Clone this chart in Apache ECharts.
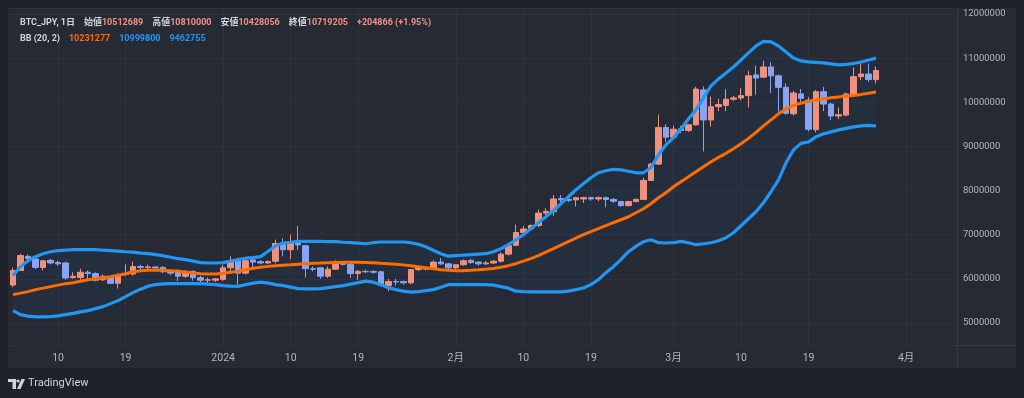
<!DOCTYPE html>
<html>
<head>
<meta charset="utf-8">
<script src="https://cdn.jsdelivr.net/npm/echarts@6/dist/echarts.min.js"></script>
<style>
  html, body { margin: 0; padding: 0; background: #1e212b; }
  #panel { position: absolute; left: 8px; top: 8px; width: 1008px; height: 360px; background: #262a35; }
  #vsep { position: absolute; left: 949px; top: 0; width: 1px; height: 360px; background: #363a45; }
  #hsep { position: absolute; left: 0; top: 337px; width: 1008px; height: 1px; background: #363a45; }
  #chart { position: absolute; left: 0; top: 0; width: 1024px; height: 398px; }
</style>
</head>
<body>
<div id="panel"><div id="vsep"></div><div id="hsep"></div></div>
<div id="chart"></div>
<script>
// 日足 BTC_JPY 2023-12-04 〜 2024-03-28
const startDate = '2023-12-04';
const axisDays = 126; // 右側の余白も含む

const opens = [
  5860000, 6190000, 6510000, 6450000, 6260000, 6420000, 6370000, 6360000, 6030000, 6030000,
  6150000, 6120000, 5980000, 6030000, 5900000, 6100000, 6110000, 6280000, 6260000, 6270000,
  6260000, 6160000, 6170000, 6060000, 6170000, 6030000, 5970000, 5970000, 5990000, 6250000,
  6410000, 6130000, 6430000, 6390000, 6360000, 6400000, 6780000, 6660000, 6810000, 6750000,
  6230000, 6250000, 6060000, 6220000, 6370000, 6330000, 6120000, 6170000, 6170000, 6160000,
  5850000, 5940000, 5940000, 5910000, 6210000, 6260000, 6220000, 6380000, 6340000, 6250000,
  6320000, 6420000, 6380000, 6340000, 6360000, 6400000, 6560000, 6760000, 7050000, 7130000,
  7210000, 7490000, 7520000, 7820000, 7800000, 7790000, 7810000, 7840000, 7810000, 7840000,
  7800000, 7750000, 7660000, 7750000, 7800000, 8230000, 8600000, 9430000, 9210000, 9400000,
  9360000, 9490000, 10280000, 9600000, 9900000, 9930000, 10070000, 10100000, 10150000, 10620000,
  10570000, 10800000, 10600000, 10340000, 9740000, 10190000, 10050000, 9380000, 10240000, 9960000,
  9690000, 9710000, 10170000, 10580000, 10640000, 10512689
];
const closes = [
  6190000, 6530000, 6460000, 6260000, 6410000, 6360000, 6340000, 6020000, 6060000, 6150000,
  6120000, 5970000, 6060000, 5900000, 6100000, 6110000, 6280000, 6260000, 6270000, 6250000,
  6160000, 6130000, 6060000, 6170000, 6030000, 5970000, 5980000, 6000000, 6250000, 6410000,
  6130000, 6410000, 6380000, 6360000, 6390000, 6800000, 6660000, 6810000, 6770000, 6230000,
  6220000, 6060000, 6220000, 6360000, 6330000, 6120000, 6170000, 6160000, 6150000, 5850000,
  5940000, 5930000, 5910000, 6210000, 6260000, 6220000, 6380000, 6340000, 6250000, 6320000,
  6410000, 6370000, 6340000, 6360000, 6400000, 6560000, 6750000, 7050000, 7130000, 7210000,
  7490000, 7530000, 7810000, 7790000, 7780000, 7840000, 7840000, 7810000, 7840000, 7800000,
  7760000, 7660000, 7750000, 7800000, 8230000, 8600000, 9430000, 9210000, 9390000, 9360000,
  9490000, 10300000, 9600000, 9900000, 9950000, 10070000, 10100000, 10150000, 10600000, 10550000,
  10800000, 10600000, 10340000, 9750000, 10210000, 10090000, 9390000, 10240000, 9960000, 9690000,
  9720000, 10190000, 10580000, 10640000, 10514339, 10719205
];
const lows = [
  5810000, 6190000, 6440000, 6220000, 6190000, 6330000, 6300000, 5980000, 6000000, 5980000,
  5990000, 5940000, 5950000, 5880000, 5780000, 6060000, 6070000, 6200000, 6220000, 6220000,
  6130000, 6080000, 5950000, 6020000, 5960000, 5900000, 5850000, 5930000, 5950000, 6170000,
  5790000, 6100000, 6250000, 6330000, 6340000, 6350000, 6510000, 6450000, 6650000, 6030000,
  6170000, 6000000, 6020000, 6200000, 6300000, 6020000, 5980000, 6130000, 6120000, 5830000,
  5720000, 5850000, 5870000, 5880000, 6180000, 6190000, 6200000, 6320000, 6220000, 6220000,
  6300000, 6340000, 6300000, 6310000, 6340000, 6370000, 6530000, 6740000, 7020000, 7100000,
  7170000, 7430000, 7430000, 7730000, 7740000, 7640000, 7720000, 7770000, 7760000, 7620000,
  7720000, 7630000, 7640000, 7740000, 7790000, 8220000, 8580000, 9100000, 9170000, 9300000,
  9330000, 9470000, 8885000, 9450000, 9800000, 9800000, 10030000, 10050000, 9880000, 10170000,
  10550000, 10210000, 9790000, 9720000, 9700000, 10000000, 9340000, 9320000, 9800000, 9600000,
  9620000, 9680000, 10150000, 10500000, 10460000, 10428056
];
const highs = [
  6260000, 6570000, 6550000, 6470000, 6430000, 6450000, 6410000, 6390000, 6150000, 6230000,
  6190000, 6150000, 6100000, 6060000, 6120000, 6330000, 6390000, 6320000, 6320000, 6290000,
  6290000, 6190000, 6220000, 6200000, 6190000, 6070000, 6030000, 6020000, 6320000, 6510000,
  6480000, 6460000, 6500000, 6420000, 6420000, 6890000, 6920000, 7000000, 7200000, 6770000,
  6280000, 6270000, 6280000, 6420000, 6400000, 6350000, 6200000, 6210000, 6190000, 6180000,
  6000000, 6000000, 5960000, 6220000, 6300000, 6280000, 6420000, 6470000, 6360000, 6330000,
  6440000, 6450000, 6400000, 6400000, 6430000, 6600000, 6790000, 7230000, 7200000, 7230000,
  7570000, 7600000, 7900000, 7900000, 7840000, 7860000, 7860000, 7860000, 7870000, 7860000,
  7830000, 7770000, 7770000, 7820000, 8290000, 8630000, 9720000, 9500000, 9470000, 9470000,
  9500000, 10350000, 10360000, 10130000, 10080000, 10300000, 10150000, 10320000, 10710000, 10830000,
  10940000, 10910000, 10630000, 10430000, 10260000, 10300000, 10120000, 10280000, 10350000, 9990000,
  9880000, 10220000, 10785000, 10885000, 10880000, 10810000
];

// BB (20, 2)
const bbUpper = [
  6073000, 6276000, 6412000, 6503000, 6570000, 6615000, 6638000, 6649000, 6661000, 6661000,
  6661000, 6661000, 6649000, 6638000, 6627000, 6615000, 6604000, 6582000, 6570000, 6548000,
  6525000, 6491000, 6457000, 6435000, 6401000, 6367000, 6360000, 6360000, 6367000, 6401000,
  6435000, 6468000, 6480000, 6503000, 6627000, 6751000, 6812000, 6830000, 6849000, 6849000,
  6849000, 6849000, 6842000, 6842000, 6830000, 6819000, 6808000, 6796000, 6819000, 6835000,
  6835000, 6835000, 6835000, 6819000, 6785000, 6729000, 6649000, 6570000, 6514000, 6525000,
  6536000, 6548000, 6559000, 6570000, 6615000, 6683000, 6774000, 6887000, 7000000, 7136000,
  7272000, 7407000, 7543000, 7701000, 7860000, 8018000, 8154000, 8290000, 8403000, 8448000,
  8482000, 8471000, 8437000, 8403000, 8403000, 8517000, 8810000, 9036000, 9195000, 9398000,
  9624000, 9828000, 10100000, 10371000, 10529000, 10665000, 10801000, 10959000, 11118000, 11276000,
  11378000, 11367000, 11276000, 11140000, 11005000, 10937000, 10914000, 10903000, 10891000, 10869000,
  10846000, 10857000, 10880000, 10914000, 10959000, 10999800
];
const bbMid = [
  5643000, 5677000, 5711000, 5756000, 5790000, 5824000, 5858000, 5892000, 5914000, 5948000,
  5982000, 6005000, 6027000, 6050000, 6084000, 6118000, 6163000, 6186000, 6197000, 6202000,
  6197000, 6186000, 6174000, 6152000, 6134000, 6118000, 6111000, 6111000, 6129000, 6152000,
  6174000, 6208000, 6242000, 6265000, 6283000, 6299000, 6310000, 6321000, 6333000, 6344000,
  6355000, 6360000, 6367000, 6373000, 6378000, 6378000, 6378000, 6373000, 6367000, 6355000,
  6344000, 6333000, 6317000, 6299000, 6276000, 6254000, 6231000, 6208000, 6193000, 6186000,
  6186000, 6193000, 6204000, 6220000, 6235000, 6265000, 6299000, 6344000, 6401000, 6457000,
  6525000, 6604000, 6683000, 6763000, 6842000, 6921000, 7000000, 7068000, 7136000, 7204000,
  7272000, 7339000, 7407000, 7498000, 7588000, 7701000, 7837000, 7950000, 8086000, 8199000,
  8312000, 8425000, 8539000, 8652000, 8753000, 8844000, 8946000, 9059000, 9183000, 9319000,
  9466000, 9602000, 9738000, 9851000, 9930000, 9980000, 10020000, 10054000, 10081000, 10104000,
  10122000, 10140000, 10156000, 10179000, 10206000, 10231277
];
const bbLower = [
  5281000, 5190000, 5156000, 5138000, 5138000, 5145000, 5161000, 5190000, 5220000, 5251000,
  5281000, 5326000, 5371000, 5439000, 5507000, 5597000, 5688000, 5767000, 5835000, 5869000,
  5885000, 5892000, 5892000, 5892000, 5892000, 5892000, 5880000, 5869000, 5846000, 5835000,
  5830000, 5869000, 5903000, 5925000, 5903000, 5869000, 5846000, 5812000, 5778000, 5772000,
  5772000, 5778000, 5801000, 5824000, 5846000, 5880000, 5914000, 5948000, 5925000, 5869000,
  5801000, 5756000, 5722000, 5699000, 5711000, 5733000, 5756000, 5812000, 5869000, 5869000,
  5869000, 5869000, 5869000, 5869000, 5858000, 5824000, 5790000, 5722000, 5711000, 5704000,
  5704000, 5704000, 5704000, 5704000, 5722000, 5756000, 5794000, 5869000, 5982000, 6140000,
  6276000, 6435000, 6615000, 6735000, 6842000, 6887000, 6819000, 6812000, 6819000, 6849000,
  6819000, 6774000, 6796000, 6819000, 6864000, 6932000, 7045000, 7204000, 7362000, 7520000,
  7724000, 7973000, 8244000, 8629000, 8923000, 9070000, 9104000, 9217000, 9285000, 9330000,
  9376000, 9410000, 9443000, 9466000, 9477000, 9462755
];

const tickDates = ['2023-12-10', '2023-12-19', '2024-01-01', '2024-01-10', '2024-01-19', '2024-02-01',
  '2024-02-10', '2024-02-19', '2024-03-01', '2024-03-10', '2024-03-19', '2024-04-01'];
const tickLabels = ['10', '19', '2024', '10', '19', '2月', '10', '19', '3月', '10', '19', '4月'];

const UP = '#f0917f';
const DOWN = '#8aa4f5';
const BB_BLUE = '#2196f3';
const BB_ORANGE = '#ff6d00';
const FONT = 'Roboto, "Noto Sans CJK JP", sans-serif';

function buildDates() {
  const out = [];
  const t0 = new Date(startDate + 'T00:00:00Z').getTime();
  for (let i = 0; i < axisDays; i++) {
    out.push(new Date(t0 + i * 86400000).toISOString().slice(0, 10));
  }
  return out;
}
const dates = buildDates();
const candles = opens.map((o, i) => [o, closes[i], lows[i], highs[i]]);
const bandWidth = bbUpper.map((u, i) => u - bbLower[i]);
const isTick = (idx, val) => tickDates.indexOf(val) >= 0;

const last = opens.length - 1;
const chg = closes[last] - closes[last - 1];
const chgPct = (chg / closes[last - 1] * 100).toFixed(2);

const chart = echarts.init(document.getElementById('chart'));
chart.setOption({
  animation: false,
  backgroundColor: 'transparent',
  textStyle: { fontFamily: FONT },
  title: [
    {
      left: 15, top: 9,
      text: '{l|BTC_JPY, 1日}  {l|始値}{v|' + opens[last] + '}  {l|高値}{v|' + highs[last] +
        '}  {l|安値}{v|' + lows[last] + '}  {l|終値}{v|' + closes[last] + '}  {v|' +
        (chg >= 0 ? '+' : '') + chg + ' (' + (chg >= 0 ? '+' : '') + chgPct + '%)}',
      textStyle: {
        rich: {
          l: { color: '#d1d4dc', fontSize: 9, fontFamily: FONT },
          v: { color: UP, fontSize: 9, fontFamily: FONT }
        }
      }
    },
    {
      left: 15, top: 25,
      text: '{l|BB (20, 2)}  {m|' + bbMid[last] + '}  {b|' + Math.round(bbUpper[last]) + '}  {b|' + bbLower[last] + '}',
      textStyle: {
        rich: {
          l: { color: '#d1d4dc', fontSize: 9, fontFamily: FONT },
          m: { color: BB_ORANGE, fontSize: 9, fontFamily: FONT },
          b: { color: BB_BLUE, fontSize: 9, fontFamily: FONT }
        }
      }
    }
  ],
  graphic: [
    { type: 'polygon', shape: { points: [[8, 379], [16, 379], [16, 389], [12.5, 389], [12.5, 382], [8, 382]] }, style: { fill: '#d1d4dc' } },
    { type: 'circle', shape: { cx: 18, cy: 381, r: 1.6 }, style: { fill: '#d1d4dc' } },
    { type: 'polygon', shape: { points: [[21.5, 379], [25, 379], [20.5, 389], [17, 389]] }, style: { fill: '#d1d4dc' } },
    { type: 'text', left: 28, top: 378, style: { text: 'TradingView', fill: '#d1d4dc', font: '11px ' + FONT } }
  ],
  grid: { left: 9.25, right: 69.1, top: 8, bottom: 53 },
  xAxis: {
    type: 'category',
    data: dates,
    boundaryGap: true,
    axisLine: { show: false },
    axisTick: { show: false },
    axisLabel: {
      interval: isTick,
      formatter: v => tickLabels[tickDates.indexOf(v)],
      color: '#b2b5be', fontSize: 10.5, margin: 8, fontFamily: FONT
    },
    splitLine: { show: true, interval: isTick, alignWithLabel: true, lineStyle: { color: '#2e323d', width: 1 } }
  },
  yAxis: {
    type: 'value',
    position: 'right',
    min: 4502000,
    max: 12136000,
    splitNumber: 8,
    axisLine: { show: false },
    axisTick: { show: false },
    axisLabel: {
      color: '#b2b5be', fontSize: 9.5, margin: 8, fontFamily: FONT,
      showMinLabel: false, showMaxLabel: false,
      formatter: v => (v % 1000000 === 0 ? String(v) : '')
    },
    splitLine: { lineStyle: { color: '#2e323d', width: 1 } }
  },
  series: [
    {
      name: 'bbBase', type: 'line', data: bbLower, stack: 'band', symbol: 'none',
      lineStyle: { opacity: 0 }, silent: true, z: 1
    },
    {
      name: 'bbFill', type: 'line', data: bandWidth, stack: 'band', symbol: 'none',
      lineStyle: { opacity: 0 }, areaStyle: { color: 'rgba(33,150,243,0.06)' }, silent: true, z: 1
    },
    {
      name: 'BTC_JPY', type: 'candlestick', data: candles, barWidth: 6, z: 2,
      itemStyle: { color: UP, color0: DOWN, borderColor: UP, borderColor0: DOWN, borderWidth: 1 }
    },
    {
      name: 'upper', type: 'line', data: bbUpper, symbol: 'none', z: 3,
      lineStyle: { color: BB_BLUE, width: 3.2 }
    },
    {
      name: 'lower', type: 'line', data: bbLower, symbol: 'none', z: 3,
      lineStyle: { color: BB_BLUE, width: 3.2 }
    },
    {
      name: 'basis', type: 'line', data: bbMid, symbol: 'none', z: 3,
      lineStyle: { color: BB_ORANGE, width: 3 }
    }
  ]
});
</script>
</body>
</html>
